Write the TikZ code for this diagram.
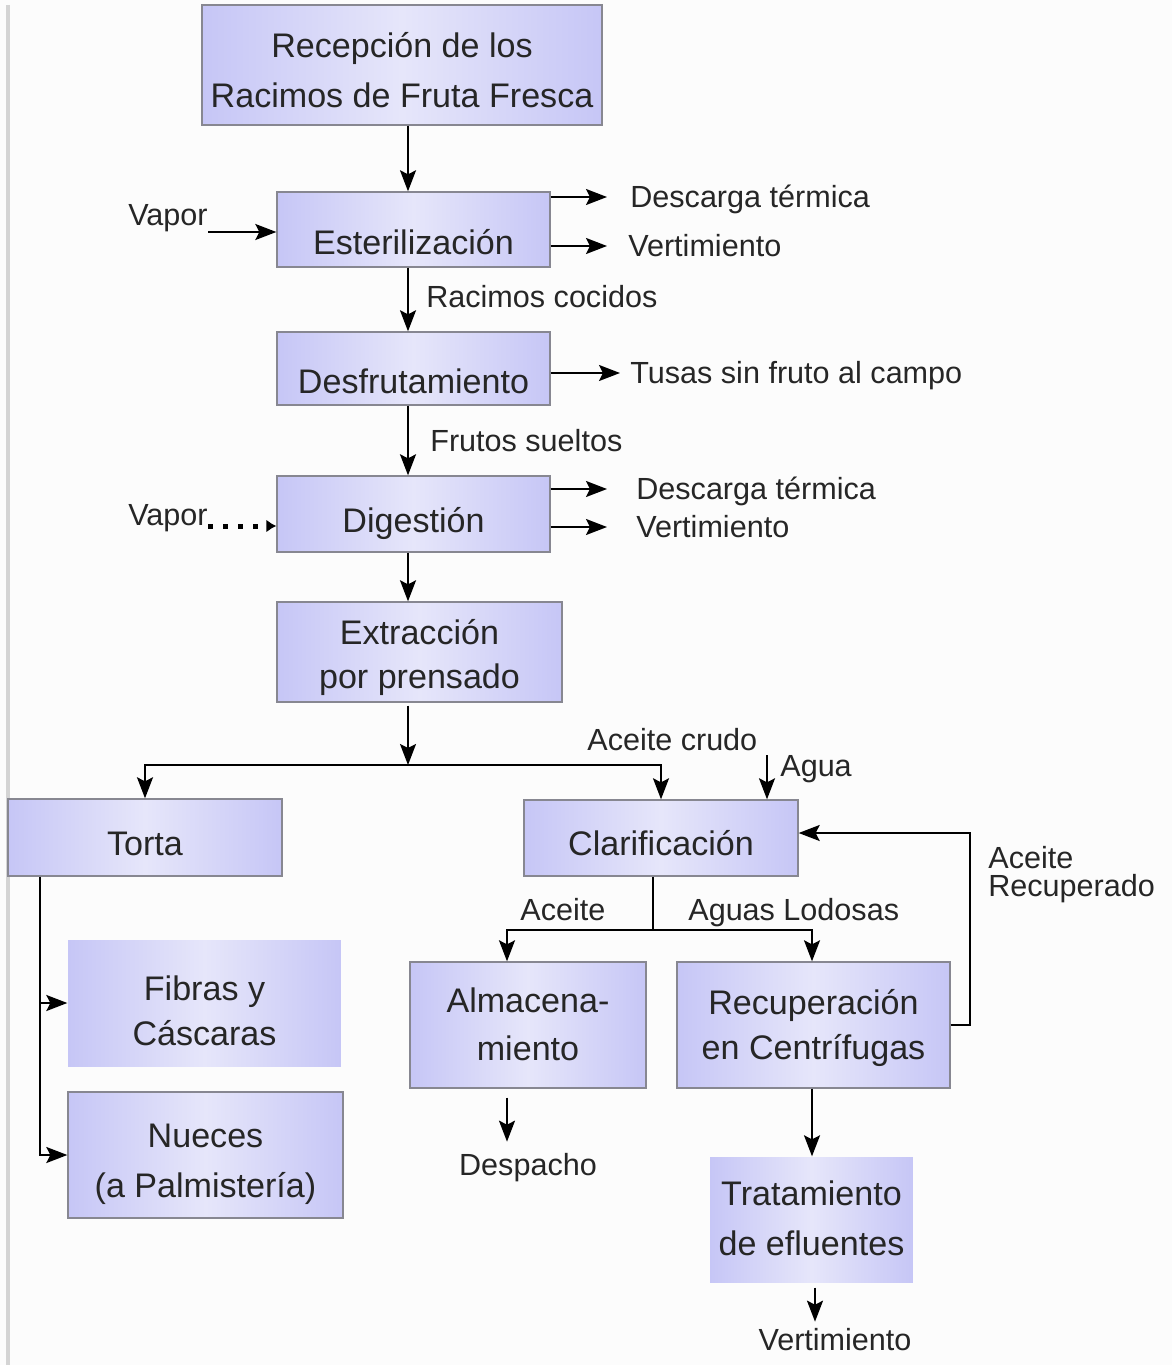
\documentclass[tikz,border=0pt]{standalone}
\usepackage{fontspec}
\setmainfont{Liberation Sans}
\usetikzlibrary{arrows.meta,calc}
\definecolor{boxedge}{RGB}{198,198,246}
\definecolor{boxmid}{RGB}{230,230,250}
\definecolor{boxline}{RGB}{135,135,145}
\definecolor{txt}{RGB}{38,38,38}
\definecolor{bg}{RGB}{252,252,252}
\definecolor{edgeline}{RGB}{212,212,212}
\newcommand\bxfont{\fontsize{19.4}{25.6}\selectfont}
\newcommand\bxfontw{\fontsize{19.4}{28.5}\selectfont}
\newcommand\lblfont{\fontsize{17.4}{16}\selectfont}
\newcommand\topstrut[1]{\rule{0pt}{#1}}
\newcommand\botstrut{\rule[-6pt]{0pt}{0pt}}
\begin{document}
\begin{tikzpicture}[x=0.02cm,y=-0.02cm,
  box/.style={draw=boxline, line width=0.8pt, left color=boxedge, right color=boxedge,
    middle color=boxmid, align=center, text=txt, font=\bxfont, inner sep=0pt},
  nobox/.style={box, draw=none},
  lbl/.style={text=txt, font=\lblfont, inner sep=0pt, anchor=west,
    text height=12.5pt, text depth=0pt},
  flow/.style={line width=1.1pt, -{Stealth[length=0.42cm,width=0.32cm,inset=0.08cm]}},
  plain/.style={line width=1.1pt},
  dots/.style={line width=0.1cm, dash pattern=on 0.1cm off 0.2cm,
    -{Latex[length=0.2cm,width=0.26cm]}}
]
\fill[bg] (0,0) rectangle (1172,1365);
\useasboundingbox (0,0) rectangle (1172,1365);
\draw[edgeline, line width=2.2pt] (8,5) -- (8,1365);

% boxes
\node[box, font=\bxfontw, minimum width=8cm, minimum height=2.4cm] (rec) at (402,65)
  {\topstrut{25.4pt}Recepción de los\\Racimos de Fruta Fresca\botstrut};
\node[box, text height=29pt, text depth=0pt, minimum width=5.46cm, minimum height=1.5cm] (est) at (413.5,229.5) {Esterilización};
\node[box, text height=29pt, text depth=0pt, minimum width=5.46cm, minimum height=1.46cm] (des) at (413.5,368.5) {Desfrutamiento};
\node[box, text height=21.6pt, text depth=0pt, minimum width=5.46cm, minimum height=1.52cm] (dig) at (413.5,514) {Digestión};
\node[box, minimum width=5.7cm, minimum height=2.0cm] (ext) at (419.5,652)
  {\topstrut{22.5pt}Extracción\\por prensado\botstrut};
\node[box, text height=20pt, text depth=0pt, minimum width=5.48cm, minimum height=1.54cm] (tor) at (145,837.5) {Torta};
\node[box, text height=19.4pt, text depth=0pt, minimum width=5.48cm, minimum height=1.52cm] (cla) at (661,838) {Clarificación};
\node[nobox, minimum width=5.46cm, minimum height=2.52cm] (fib) at (204.5,1003)
  {\topstrut{28.2pt}Fibras y\\Cáscaras\botstrut};
\node[box, font=\bxfontw, minimum width=5.5cm, minimum height=2.52cm] (nue) at (205.5,1155)
  {\topstrut{25.4pt}Nueces\\(a Palmistería)\botstrut};
\node[box, font=\fontsize{19.4}{27.5}\selectfont, minimum width=4.72cm, minimum height=2.52cm] (alm) at (528,1025)
  {\topstrut{18.7pt}Almacena-\\miento\botstrut};
\node[box, minimum width=5.46cm, minimum height=2.52cm] (rcp) at (813.5,1025)
  {\topstrut{20.2pt}Recuperación\\en Centrífugas\botstrut};
\node[nobox, font=\bxfontw, minimum width=4.06cm, minimum height=2.5cm] (tra) at (811.5,1219.5)
  {\topstrut{18pt}Tratamiento\\de efluentes\botstrut};

% labels
\node[lbl] (vap1) at (128,215) {Vapor};
\node[lbl] (dt1) at (630,197) {Descarga térmica};
\node[lbl] (ve1) at (628,246) {Vertimiento};
\node[lbl] (rco) at (426,297) {Racimos cocidos};
\node[lbl] (tus) at (630,373) {Tusas sin fruto al campo};
\node[lbl] (fsu) at (430,441) {Frutos sueltos};
\node[lbl] (vap2) at (128,515) {Vapor};
\node[lbl] (dt2) at (636,489) {Descarga térmica};
\node[lbl] (ve2) at (636,527) {Vertimiento};
\node[lbl] (acr) at (587,740) {Aceite crudo};
\node[lbl] (agu) at (780,766) {Agua};
\node[lbl] (ace) at (520,910) {Aceite};
\node[lbl] (alo) at (688,910) {Aguas Lodosas};
\node[lbl, align=left, text height=, text depth=] (arc) at (988,875) {Aceite\\Recuperado};
\node[lbl, anchor=center] (dsp) at (528,1165) {Despacho};
\node[lbl, anchor=center] (ve3) at (835,1340) {Vertimiento};

% coordinates
\coordinate (j1) at (408,765);
\coordinate (j2) at (653,930);
\coordinate (tx) at (40,0);
\coordinate (fbx) at (970,0);
\coordinate (aguatop) at (767,755);

% connectors
\draw[flow] (rec.south -| 408,0) -- (est.north -| 408,0);
\draw[flow] (vap1.east |- 0,232) -- (est.west |- 0,232);
\draw[flow, shorten >=0.46cm] (est.east |- dt1.west) -- (dt1.west);
\draw[flow, shorten >=0.42cm] (est.east |- ve1.west) -- (ve1.west);
\draw[flow] (est.south -| 408,0) -- (des.north -| 408,0);
\draw[flow, shorten >=0.2cm] (des.east |- tus.west) -- (tus.west);
\draw[flow] (des.south -| 408,0) -- (dig.north -| 408,0);
\draw[dots] (vap2.east |- 0,526) -- (dig.west |- 0,526);
\draw[flow, shorten >=0.58cm] (dig.east |- dt2.west) -- (dt2.west);
\draw[flow, shorten >=0.58cm] (dig.east |- ve2.west) -- (ve2.west);
\draw[flow] (dig.south -| 408,0) -- (ext.north -| 408,0);
\draw[flow] ([yshift=-0.06cm]ext.south -| j1) -- (j1);
\draw[flow] (j1) -| (tor.north);
\draw[flow] (j1) -| (cla.north);
\draw[flow] (aguatop) -- (cla.north -| aguatop);
\draw[plain] (cla.south -| j2) -- (j2);
\draw[flow] (j2) -| (alm.north -| 507,0);
\draw[flow] (j2) -| (rcp.north -| 812,0);
\draw[flow] (rcp.east) -- (rcp.east -| fbx) |- (cla.east |- 0,833);
\draw[flow, shorten >=0.24cm] ([yshift=-0.18cm]alm.south -| 507,0) -- (dsp.north -| 507,0);
\draw[flow] (rcp.south -| 812,0) -- (tra.north -| 812,0);
\draw[flow, shorten >=0.14cm] ([yshift=-0.1cm]tra.south -| 815,0) -- (ve3.north -| 815,0);
\draw[flow] (tor.south -| tx) |- (nue.west);
\draw[flow] (fib.west -| tx) -- (fib.west);
\end{tikzpicture}
\end{document}
